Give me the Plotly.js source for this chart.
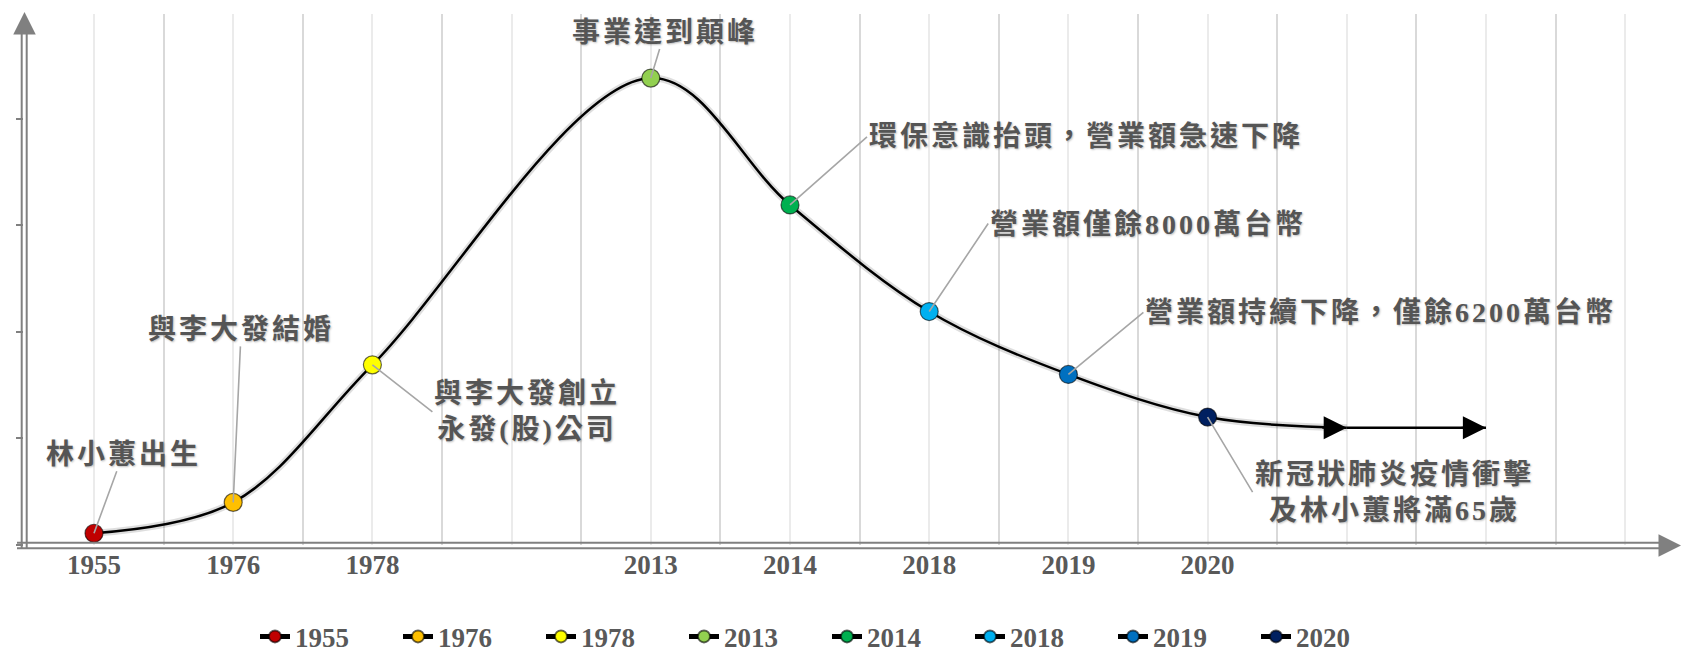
<!DOCTYPE html>
<html>
<head>
<meta charset="utf-8">
<script src="https://cdn.plot.ly/plotly-3.0.1.min.js"></script>
<style>
  html, body { margin: 0; padding: 0; background: #ffffff; }
  #chart { width: 1682px; height: 664px; }
  text.annotation-text { letter-spacing: 3px; }
</style>
</head>
<body>
<div id="chart"></div>
<script>
// ---------------- data ----------------
const years  = ['1955', '1976', '1978', '2013', '2014', '2018', '2019', '2020'];
const slots  = [0, 2, 4, 8, 10, 12, 14, 16];            // position of each year on the timeline
const values = [0.11, 0.40, 1.69, 4.38, 3.19, 2.19, 1.60, 1.20];
const trendSlots  = [18, 20];                           // arrow continuation after 2020
const trendValues = [1.10, 1.10];
const events = [
  '林小蕙出生',
  '與李大發結婚',
  '與李大發創立<br>永發(股)公司',
  '事業達到顛峰',
  '環保意識抬頭，營業額急速下降',
  '營業額僅餘8000萬台幣',
  '營業額持續下降，僅餘6200萬台幣',
  '新冠狀肺炎疫情衝擊<br>及林小蕙將滿65歲'
];
const colors = ['#C00000', '#FFC000', '#FFFF00', '#92D050', '#00B050', '#00B0F0', '#0070C0', '#002060'];

// --------------- styling / layout helpers ---------------
// [ax, ay, xanchor] of each callout label relative to its point (pixels)
const labelOffsets = [[29, -79, 'center'], [8, -173, 'center'], [60, 47, 'left'], [14, -46, 'center'],
                      [77, -68, 'left'], [59, -88, 'left'], [75, -62, 'left'], [45, 75, 'left']];
const L = 24, W = 1658, T = 14, H = 531, B = T + H;
const px2x = p => (p - L) / W;
const py2y = p => (B - p) / H;
const textFont = { family: "'Liberation Serif', 'Noto Sans CJK TC', serif", size: 28, color: '#555555', weight: 'bold',
                   shadow: '1px 1px 2px rgba(0,0,0,0.25)' };
const numFont  = { family: "'Liberation Serif', serif", size: 27, color: '#595959', weight: 'bold' };

// --------------- traces ---------------
const curveX = slots.concat([trendSlots[0]]);
const curveY = values.concat([trendValues[0]]);
const traces = [];
traces.push({ x: curveX, y: curveY, mode: 'lines', showlegend: false, hoverinfo: 'skip',
  line: { color: 'rgba(0,0,0,0.13)', width: 7, shape: 'spline', smoothing: 1 } });
traces.push({ x: curveX, y: curveY, mode: 'lines', showlegend: false, hoverinfo: 'skip',
  line: { color: '#000000', width: 2.5, shape: 'spline', smoothing: 1 } });
traces.push({ x: trendSlots, y: trendValues, mode: 'lines', showlegend: false, hoverinfo: 'skip',
  line: { color: '#000000', width: 2.5 } });
years.forEach((yr, i) => {
  traces.push({ x: [slots[i]], y: [values[i]], name: yr, mode: 'lines+markers',
    line: { color: '#000000', width: 2.5 },
    marker: { size: 18, color: colors[i], line: { color: 'rgba(0,0,0,0.6)', width: 1.2 } } });
});

// --------------- ticks ---------------
const maxSlot = 22;
const tickvals = [], ticktext = [], minorvals = [];
for (let s = 0; s <= maxSlot; s += 2) {
  tickvals.push(s);
  const k = slots.indexOf(s);
  ticktext.push(k >= 0 ? years[k] : '');
}
for (let s = -1; s <= maxSlot + 1; s += 2) minorvals.push(s);

// --------------- annotations ---------------
const annotations = events.map((txt, i) => ({
  x: slots[i], y: values[i], xref: 'x', yref: 'y', text: txt, font: textFont, align: 'center',
  xanchor: labelOffsets[i][2], yanchor: 'middle',
  showarrow: true, arrowhead: 0, arrowwidth: 1.6, arrowcolor: '#a6a6a6', standoff: 0,
  ax: labelOffsets[i][0], ay: labelOffsets[i][1]
}));
// arrow heads on the trend line
trendSlots.forEach((s, i) => annotations.push({
  x: s, y: trendValues[i], xref: 'x', yref: 'y', text: '', showarrow: true,
  arrowhead: 2, arrowsize: 2.1, arrowwidth: 2.2, arrowcolor: '#000000', ax: -26, ay: 0
}));
// axis arrow heads
annotations.push({ x: px2x(24.5), y: py2y(12), xref: 'paper', yref: 'paper', text: '', showarrow: true,
  arrowhead: 2, arrowsize: 1.8, arrowwidth: 2.5, arrowcolor: '#808080', ax: 0, ay: 22 });
annotations.push({ x: px2x(1681), y: py2y(545.5), xref: 'paper', yref: 'paper', text: '', showarrow: true,
  arrowhead: 2, arrowsize: 1.8, arrowwidth: 2.5, arrowcolor: '#808080', ax: -22, ay: 0 });

// --------------- axis double lines ---------------
const gray = '#808080';
const shapes = [
  { type: 'line', xref: 'paper', yref: 'paper', x0: px2x(21.7), x1: px2x(21.7), y0: py2y(548.5), y1: py2y(28), line: { color: gray, width: 2 } },
  { type: 'line', xref: 'paper', yref: 'paper', x0: px2x(26.7), x1: px2x(26.7), y0: py2y(548.5), y1: py2y(28), line: { color: gray, width: 2 } },
  { type: 'line', xref: 'paper', yref: 'paper', x0: px2x(17), x1: px2x(1662), y0: py2y(542.7), y1: py2y(542.7), line: { color: gray, width: 2 } },
  { type: 'line', xref: 'paper', yref: 'paper', x0: px2x(17), x1: px2x(1662), y0: py2y(548.3), y1: py2y(548.3), line: { color: gray, width: 2 } }
];

const layout = {
  width: 1682, height: 664,
  margin: { l: L, r: 0, t: T, b: 664 - B, autoexpand: false },
  paper_bgcolor: '#ffffff', plot_bgcolor: '#ffffff',
  showlegend: true,
  xaxis: {
    range: [(L - 94) / 69.6, (1682 - 94) / 69.6],
    tickmode: 'array', tickvals: tickvals, ticktext: ticktext,
    showgrid: true, gridcolor: '#ebebeb', gridwidth: 2,
    minor: { tickmode: 'array', tickvals: minorvals, showgrid: true, gridcolor: '#d9d9d9', gridwidth: 2, ticks: '' },
    zeroline: false, showline: false, ticks: '', ticklabelstandoff: 1, tickfont: numFont,
    automargin: false, fixedrange: true
  },
  yaxis: {
    range: [0, H / 106.6],
    tickmode: 'array', tickvals: [0, 1, 2, 3, 4],
    showticklabels: false, ticks: 'outside', ticklen: 7, tickwidth: 2, tickcolor: gray,
    showgrid: false, zeroline: false, showline: false, automargin: false, fixedrange: true
  },
  legend: {
    orientation: 'h', xref: 'container', yref: 'container',
    x: 827 / 1682, xanchor: 'center', y: 0.004, yanchor: 'bottom',
    font: numFont, itemsizing: 'constant', bgcolor: 'rgba(0,0,0,0)',
    entrywidth: 98, entrywidthmode: 'pixels'
  },
  shapes: shapes,
  annotations: annotations
};

Plotly.newPlot('chart', traces, layout, { displayModeBar: false, staticPlot: true });
</script>
</body>
</html>
